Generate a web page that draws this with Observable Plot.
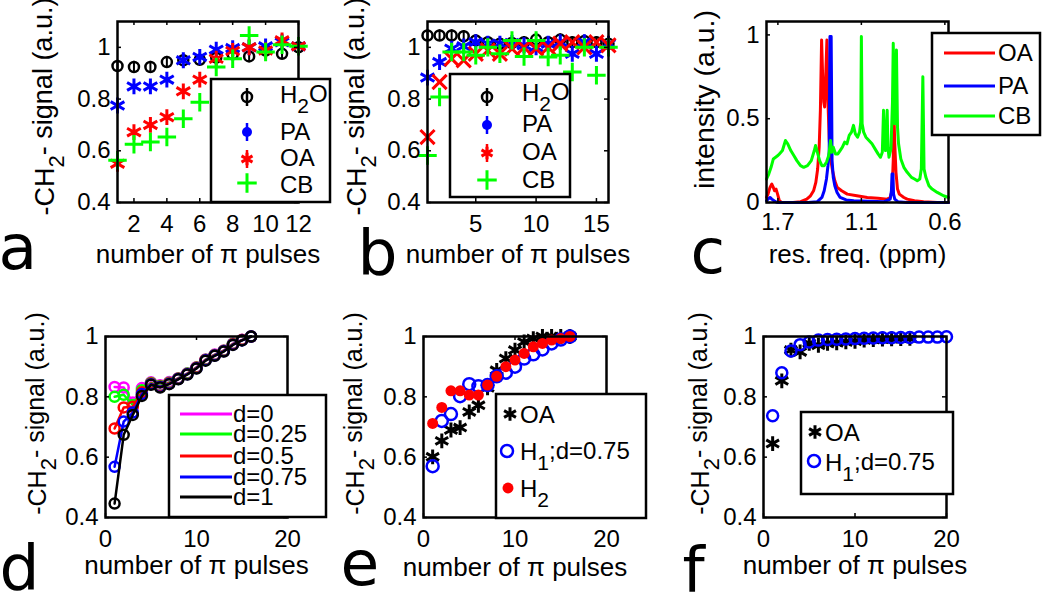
<!DOCTYPE html>
<html><head><meta charset="utf-8">
<script src="https://cdn.jsdelivr.net/npm/d3@7"></script>
<script src="https://cdn.jsdelivr.net/npm/@observablehq/plot@0.6"></script>
<style>
body{margin:0;background:#fff;}
#fig{position:relative;width:1050px;height:594px;overflow:hidden;background:#fff;}
#fig svg{position:absolute;overflow:visible;}
</style></head><body><div id="fig"></div>
<script>
// ---------- DATA ----------
// panel a
const pulsesA = [1,2,3,4,5,6,7,8,9,10,11,12];
const aH2O = [0.928,0.924,0.924,0.943,0.95,0.952,0.96,0.973,0.965,0.988,0.975,1.0];
const aPA  = [0.775,0.849,0.849,0.875,0.95,0.963,0.991,0.997,1.0,1.004,1.02,1.004];
const aOA  = [0.55,0.672,0.70,0.73,0.83,0.875,0.956,0.986,1.0,0.988,1.027,1.004];
const aCB  = [0.563,0.625,0.634,0.653,0.724,0.788,0.924,0.956,1.046,0.982,1.01,1.004];
// panel b
const pulsesB = [1,2,3,4,5,6,7,8,9,10,11,12,13,14,15,16];
const bH2O = [1.046,1.046,1.046,1.043,1.027,1.02,1.014,1.017,1.02,1.03,1.02,1.03,1.02,1.025,1.02,1.014];
const bPA  = [0.883,0.943,0.995,1.004,1.02,1.014,1.014,1.017,1.008,1.0,1.014,1.02,0.975,1.02,0.975,1.014];
const bOA  = [0.653,0.866,0.956,0.95,0.975,0.988,0.975,0.995,1.0,0.995,1.0,1.014,1.02,1.0,1.02,1.008];
const bCB  = [0.582,0.808,0.982,0.982,0.969,1.0,0.975,1.027,0.965,1.027,0.963,0.969,0.905,1.0,0.892,1.0];
const h2oErr = 0.022;
// panel c  [ppm, intensity]
const specOA = [[1.775,0.03],[1.765,0.05],[1.752,0.09],[1.740,0.11],[1.730,0.09],[1.722,0.07],[1.712,0.08],[1.702,0.05],[1.690,0.01],[1.675,0.0],[1.600,0.0],[1.550,0.005],[1.510,0.02],[1.485,0.04],[1.465,0.07],[1.450,0.12],[1.438,0.20],[1.428,0.33],[1.420,0.55],[1.412,0.97],[1.405,0.75],[1.398,0.60],[1.392,0.57],[1.385,0.75],[1.377,0.97],[1.370,0.60],[1.362,0.38],[1.352,0.26],[1.340,0.19],[1.325,0.13],[1.309,0.09],[1.280,0.07],[1.243,0.05],[1.180,0.04],[1.111,0.03],[1.040,0.025],[0.980,0.02],[0.960,0.03],[0.948,0.07],[0.940,0.25],[0.935,0.51],[0.930,0.35],[0.922,0.18],[0.912,0.08],[0.900,0.05],[0.870,0.03],[0.848,0.02],[0.800,0.01],[0.740,0.005],[0.650,0.0],[0.576,0.0]];
const specPA = [[1.775,0.01],[1.765,0.02],[1.752,0.03],[1.740,0.02],[1.725,0.01],[1.705,0.0],[1.600,0.0],[1.500,0.0],[1.440,0.005],[1.410,0.03],[1.395,0.07],[1.380,0.14],[1.370,0.22],[1.362,0.30],[1.357,0.99],[1.349,0.99],[1.343,0.25],[1.335,0.15],[1.325,0.10],[1.310,0.06],[1.290,0.03],[1.250,0.015],[1.200,0.01],[1.000,0.005],[0.960,0.02],[0.952,0.07],[0.948,0.17],[0.942,0.17],[0.938,0.05],[0.930,0.02],[0.910,0.005],[0.850,0.0],[0.576,0.0]];
const specCB = [[1.775,0.14],[1.760,0.17],[1.745,0.21],[1.730,0.26],[1.715,0.27],[1.700,0.28],[1.690,0.29],[1.670,0.31],[1.650,0.37],[1.635,0.35],[1.615,0.31],[1.595,0.28],[1.575,0.25],[1.551,0.22],[1.530,0.21],[1.505,0.22],[1.480,0.25],[1.460,0.31],[1.452,0.34],[1.440,0.30],[1.425,0.25],[1.410,0.22],[1.395,0.22],[1.380,0.24],[1.365,0.28],[1.353,0.37],[1.345,0.30],[1.335,0.33],[1.320,0.29],[1.305,0.29],[1.290,0.31],[1.275,0.33],[1.260,0.36],[1.245,0.35],[1.230,0.40],[1.215,0.42],[1.202,0.46],[1.190,0.41],[1.175,0.39],[1.162,0.42],[1.154,0.48],[1.150,0.99],[1.145,0.47],[1.135,0.42],[1.120,0.39],[1.100,0.37],[1.080,0.35],[1.060,0.32],[1.040,0.29],[1.024,0.27],[1.012,0.30],[1.004,0.55],[0.996,0.33],[0.991,0.31],[0.985,0.40],[0.980,0.55],[0.975,0.33],[0.968,0.27],[0.955,0.32],[0.945,0.60],[0.940,0.95],[0.934,0.50],[0.930,0.47],[0.924,0.62],[0.919,0.91],[0.912,0.45],[0.905,0.35],[0.890,0.26],[0.870,0.21],[0.848,0.18],[0.820,0.15],[0.800,0.14],[0.782,0.13],[0.765,0.14],[0.755,0.20],[0.745,0.75],[0.737,0.20],[0.725,0.15],[0.705,0.10],[0.684,0.08],[0.650,0.06],[0.609,0.04],[0.576,0.03]];
const cTicks = [1.7, 1.15, 0.6];
const cTickLabels = ["1.7", "1.1", "0.6"];
// panel d
const pulsesD = [1,2,3,4,5,6,7,8,9,10,11,12,13,14,15,16];
const dD0   = [0.833,0.831,0.781,0.829,0.848,0.838,0.849,0.862,0.878,0.898,0.924,0.940,0.954,0.976,0.989,1.0];
const dD025 = [0.800,0.807,0.773,0.822,0.846,0.836,0.847,0.861,0.877,0.897,0.923,0.939,0.953,0.975,0.988,1.0];
const dD05  = [0.695,0.765,0.767,0.815,0.844,0.834,0.845,0.860,0.876,0.896,0.922,0.938,0.952,0.974,0.988,1.0];
const dD075 = [0.568,0.718,0.748,0.809,0.842,0.833,0.843,0.859,0.875,0.895,0.921,0.937,0.951,0.973,0.987,1.0];
const dD1   = [0.446,0.674,0.740,0.803,0.840,0.831,0.842,0.858,0.874,0.894,0.920,0.936,0.950,0.972,0.987,1.0];
const dLabels = ["d=0","d=0.25","d=0.5","d=0.75","d=1"];
// panel e
const pulsesE = [1,2,3,4,5,6,7,8,9,10,11,12,13,14,15,16];
const eOA = [0.601,0.654,0.69,0.698,0.75,0.772,0.83,0.888,0.927,0.955,0.982,0.993,1.0,1.0,1.0,1.0];
const eH1 = [0.57,0.72,0.743,0.802,0.842,0.835,0.839,0.868,0.88,0.90,0.927,0.941,0.957,0.977,0.99,1.0];
const eH2 = [0.712,0.765,0.82,0.82,0.806,0.806,0.839,0.868,0.90,0.922,0.944,0.966,0.977,0.988,0.993,1.0];
// panel f
const pulsesFOA = [1,2,3,4,5,6,7,8,9,10,11,12,13,14,15,16];
const fOA = [0.645,0.853,0.955,0.949,0.977,0.971,0.977,0.979,0.982,0.984,0.988,0.99,0.991,0.992,0.993,0.994];
const pulsesFH = [1,2,3,4,5,6,7,8,9,10,11,12,13,14,15,16,17,18,19,20];
const fH1 = [0.737,0.88,0.952,0.973,0.982,0.988,0.99,0.991,0.992,0.993,0.994,0.995,0.996,0.996,0.997,0.997,0.998,0.998,0.998,0.999];

const xTitle = "number of \u03c0 pulses";
const yTitleTop = "-CH_2-  signal (a.u.)";
const yTitleBottom = "-CH_2- signal (a.u.)";

// ---------- DRAWING ----------
const RED = "#ff0000", BLUE = "#0000ff", GREEN = "#00ff00", MAG = "#ff00ff", BLACK = "#000000";
const FONT = "'Liberation Sans', Arial, Helvetica, sans-serif";
const fig = document.getElementById("fig");
const rows = (xs, ys) => xs.map((x, i) => ({x, y: ys[i]}));
const fmt = d => String(d);
const yLabels = [];
const TICK = 4; // inward tick length, px

function panel(o) {
  const fw = o.w - o.ml - o.mr, fh = o.h - o.mt - o.mb;
  const [x0, x1] = o.xDomain, [y0, y1] = o.yDomain;
  const tx = (x1 - x0) * TICK / fw, ty = (y1 - y0) * TICK / fh;
  const svg = Plot.plot({
    width: o.w, height: o.h,
    marginLeft: o.ml, marginRight: o.mr, marginTop: o.mt, marginBottom: o.mb,
    style: {background: "transparent", overflow: "visible", fontFamily: FONT, color: "black"},
    x: {domain: o.xDomain},
    y: {domain: o.yDomain},
    marks: [
      ...o.marks,
      // inward ticks on all four sides (MATLAB style)
      Plot.ruleX(o.xTicks, {x: d => d, y1: y0, y2: y0 + ty, stroke: "black", strokeWidth: 1.5}),
      Plot.ruleX(o.xTicks, {x: d => d, y1: y1, y2: y1 - ty, stroke: "black", strokeWidth: 1.5}),
      Plot.ruleY(o.yTicks, {y: d => d, x1: x0, x2: x0 + tx, stroke: "black", strokeWidth: 1.5}),
      Plot.ruleY(o.yTicks, {y: d => d, x1: x1, x2: x1 - tx, stroke: "black", strokeWidth: 1.5}),
      Plot.frame({stroke: "black", strokeWidth: 2.5}),
      Plot.axisX({ticks: o.xTicks, tickSize: 0, tickPadding: o.xPad, fontSize: 24, label: null, tickFormat: o.xFormat || fmt}),
      Plot.axisY({ticks: o.yTicks, tickSize: 0, tickPadding: 7, fontSize: 24, label: null, tickFormat: fmt}),
      Plot.text([o.xLabel], {text: d => d, frameAnchor: "bottom", lineAnchor: "bottom", dy: o.xLabelDy, fontSize: 26}),
      Plot.text([o.letter], {text: d => d, frameAnchor: "bottom-left", textAnchor: "start", lineAnchor: "bottom", dx: o.letterDx, dy: o.letterDy, fontSize: 63, fontFamily: "'DejaVu Sans', sans-serif"})
    ]
  });
  svg.style.position = "absolute";
  svg.style.left = o.left + "px";
  svg.style.top = o.top + "px";
  fig.appendChild(svg);
  // y title: centred beside the frame (drawn in overlay, rotated, with true subscript)
  yLabels.push({text: o.yLabel, size: o.yLabelSize,
    x: o.left + o.ml + o.yLabelDx,
    y: o.top + (o.mt + o.h - o.mb) / 2 + o.yLabelDy});
}

const yTicks4 = [0.4, 0.6, 0.8, 1];

// a
panel({left: 0, top: 0, w: 345, h: 297, ml: 117, mr: 47, mt: 21, mb: 95,
  xDomain: [1, 12], yDomain: [0.4, 1.1], xTicks: [2,4,6,8,10,12], yTicks: yTicks4, xPad: 12,
  xLabel: xTitle, xLabelDy: 60, yLabel: yTitleTop, yLabelSize: 27, yLabelDx: -72, yLabelDy: -5,
  letter: "a", letterDx: -119, letterDy: 66,
  marks: [
    Plot.ruleX(rows(pulsesA, aH2O), {x: "x", y1: d => d.y - h2oErr, y2: d => d.y + h2oErr, stroke: BLACK, strokeWidth: 2}),
    Plot.dot(rows(pulsesA, aH2O), {x: "x", y: "y", symbol: "circle", r: 5, fill: "none", stroke: BLACK, strokeWidth: 2.5}),
    Plot.dot(rows(pulsesA, aPA), {x: "x", y: "y", symbol: "asterisk", r: 7.5, stroke: BLUE, strokeWidth: 3}),
    Plot.dot(rows(pulsesA, aOA), {x: "x", y: "y", symbol: "asterisk", r: 7.5, stroke: RED, strokeWidth: 3}),
    Plot.dot(rows(pulsesA, aCB), {x: "x", y: "y", symbol: "plus", r: 6, stroke: GREEN, strokeWidth: 3})
  ]});

// b
panel({left: 345, top: 0, w: 345, h: 297, ml: 82, mr: 82, mt: 21, mb: 95,
  xDomain: [1, 16], yDomain: [0.4, 1.1], xTicks: [5,10,15], yTicks: yTicks4, xPad: 12,
  xLabel: xTitle, xLabelDy: 60, yLabel: yTitleTop, yLabelSize: 27, yLabelDx: -70, yLabelDy: -5,
  letter: "b", letterDx: -70, letterDy: 71,
  marks: [
    Plot.ruleX(rows(pulsesB, bH2O), {x: "x", y1: d => d.y - h2oErr, y2: d => d.y + h2oErr, stroke: BLACK, strokeWidth: 2}),
    Plot.dot(rows(pulsesB, bH2O), {x: "x", y: "y", symbol: "circle", r: 5, fill: "none", stroke: BLACK, strokeWidth: 2.5}),
    Plot.dot(rows(pulsesB, bPA), {x: "x", y: "y", symbol: "asterisk", r: 7.5, stroke: BLUE, strokeWidth: 3}),
    Plot.dot(rows(pulsesB, bOA), {x: "x", y: "y", symbol: "times", r: 6.5, stroke: RED, strokeWidth: 3}),
    Plot.dot(rows(pulsesB, bCB), {x: "x", y: "y", symbol: "plus", r: 6, stroke: GREEN, strokeWidth: 3})
  ]});

// c
panel({left: 690, top: 0, w: 360, h: 297, ml: 76, mr: 102, mt: 21, mb: 95,
  xDomain: [1.775, 0.576], yDomain: [0, 1.08], xTicks: cTicks, yTicks: [0, 0.5, 1], xPad: 10,
  xFormat: d => cTickLabels[cTicks.indexOf(d)],
  xLabel: "res. freq. (ppm)", xLabelDy: 60, yLabel: "intensity (a.u.)", yLabelSize: 28.5, yLabelDx: -62, yLabelDy: -12,
  letter: "c", letterDx: -76, letterDy: 70,
  marks: [
    Plot.line(specOA, {x: d => d[0], y: d => d[1], stroke: RED, strokeWidth: 3}),
    Plot.line(specPA, {x: d => d[0], y: d => d[1], stroke: BLUE, strokeWidth: 3}),
    Plot.line(specCB, {x: d => d[0], y: d => d[1], stroke: GREEN, strokeWidth: 3})
  ]});

// d
const dSeries = [[dD0, MAG], [dD025, GREEN], [dD05, RED], [dD075, BLUE], [dD1, BLACK]];
panel({left: 0, top: 297, w: 345, h: 297, ml: 105, mr: 58, mt: 39, mb: 77,
  xDomain: [0, 20], yDomain: [0.4, 1], xTicks: [0,10,20], yTicks: yTicks4, xPad: 12,
  xLabel: xTitle, xLabelDy: 56, yLabel: yTitleBottom, yLabelSize: 25, yLabelDx: -68, yLabelDy: -13,
  letter: "d", letterDx: -106, letterDy: 71,
  marks: dSeries.flatMap(([vals, col]) => [
    Plot.line(rows(pulsesD, vals), {x: "x", y: "y", stroke: col, strokeWidth: 2.5}),
    Plot.dot(rows(pulsesD, vals), {x: "x", y: "y", symbol: "circle", r: 5, fill: "none", stroke: col, strokeWidth: 2.5})
  ])});

// e
panel({left: 345, top: 297, w: 345, h: 297, ml: 78, mr: 84, mt: 39, mb: 77,
  xDomain: [0, 20], yDomain: [0.4, 1], xTicks: [0,10,20], yTicks: yTicks4, xPad: 12,
  xLabel: xTitle, xLabelDy: 58, yLabel: yTitleBottom, yLabelSize: 25, yLabelDx: -68, yLabelDy: -13,
  letter: "e", letterDx: -83, letterDy: 67,
  marks: [
    Plot.dot(rows(pulsesE, eOA), {x: "x", y: "y", symbol: "asterisk", r: 7, stroke: BLACK, strokeWidth: 3}),
    Plot.dot(rows(pulsesE, eH1), {x: "x", y: "y", symbol: "circle", r: 6, fill: "none", stroke: BLUE, strokeWidth: 2.5}),
    Plot.dot(rows(pulsesE, eH2), {x: "x", y: "y", symbol: "circle", r: 5.5, fill: RED, stroke: "none"})
  ]});

// f
panel({left: 690, top: 297, w: 360, h: 297, ml: 73, mr: 104, mt: 39, mb: 77,
  xDomain: [0, 20], yDomain: [0.4, 1], xTicks: [0,10,20], yTicks: yTicks4, xPad: 12,
  xLabel: xTitle, xLabelDy: 56, yLabel: yTitleBottom, yLabelSize: 25, yLabelDx: -63, yLabelDy: -13,
  letter: "f", letterDx: -81, letterDy: 73,
  marks: [
    Plot.dot(rows(pulsesFOA, fOA), {x: "x", y: "y", symbol: "asterisk", r: 7, stroke: BLACK, strokeWidth: 3}),
    Plot.dot(rows(pulsesFH, fH1), {x: "x", y: "y", symbol: "circle", r: 5.5, fill: "none", stroke: BLUE, strokeWidth: 2.5})
  ]});

// ---------- OVERLAY: y titles and legends ----------
const overlay = d3.select(fig).append("svg").attr("width", 1050).attr("height", 594)
  .style("left", "0px").style("top", "0px").attr("font-family", FONT);

function rich(t, str, subSize) {
  // "_x" marks a subscript character
  const parts = str.split(/(_.)/).filter(s => s.length);
  let lowered = false;
  parts.forEach(p => {
    if (p[0] === "_") {
      t.append("tspan").attr("dy", "0.45em").attr("font-size", subSize + "px").text(p[1]);
      lowered = true;
    } else {
      const s = t.append("tspan").text(p);
      if (lowered) { s.attr("dy", "-0.45em"); lowered = false; }
    }
  });
}

yLabels.forEach(l => {
  const t = overlay.append("text")
    .attr("transform", `translate(${l.x},${l.y}) rotate(-90)`)
    .attr("text-anchor", "middle").attr("dy", "0.35em")
    .attr("font-size", l.size + "px").attr("fill", "black");
  rich(t, l.text, 22);
});

function sym(g, type, x, y, col) {
  const path = (t, size) => g.append("path").attr("d", d3.symbol().type(t).size(size)()).attr("transform", `translate(${x},${y})`);
  if (type === "phi" || type === "dotbar" || type === "astbar") {
    g.append("line").attr("x1", x).attr("x2", x).attr("y1", y - 9).attr("y2", y + 9).attr("stroke", col).attr("stroke-width", 2.5);
  }
  if (type === "phi") path(d3.symbolCircle, Math.PI * 25).attr("fill", "none").attr("stroke", col).attr("stroke-width", 2.5);
  if (type === "dotbar") path(d3.symbolCircle, Math.PI * 25).attr("fill", col);
  if (type === "astbar") path(d3.symbolAsterisk, Math.PI * 36).attr("fill", "none").attr("stroke", col).attr("stroke-width", 3);
  if (type === "plusbar") path(d3.symbolPlus, Math.PI * 40).attr("fill", "none").attr("stroke", col).attr("stroke-width", 3);
  if (type === "asterisk") path(d3.symbolAsterisk, Math.PI * 42).attr("fill", "none").attr("stroke", col).attr("stroke-width", 3);
  if (type === "circle") path(d3.symbolCircle, Math.PI * 36).attr("fill", "none").attr("stroke", col).attr("stroke-width", 2.5);
  if (type === "dot") path(d3.symbolCircle, Math.PI * 30).attr("fill", col);
}
function legend(box, entries) {
  const g = overlay.append("g");
  g.append("rect").attr("x", box[0]).attr("y", box[1]).attr("width", box[2]).attr("height", box[3])
    .attr("fill", "white").attr("stroke", "black").attr("stroke-width", 2.5);
  entries.forEach(e => {
    if (e.type === "line") {
      g.append("line").attr("x1", e.sx[0]).attr("x2", e.sx[1]).attr("y1", e.sy).attr("y2", e.sy).attr("stroke", e.col).attr("stroke-width", 3);
    } else sym(g, e.type, e.sx, e.sy, e.col);
    const t = g.append("text").attr("x", e.tx).attr("y", e.ty).attr("dy", "0.35em").attr("font-size", "24px").attr("fill", "black");
    rich(t, e.label, 21);
  });
}
const abLabels = ["H_2O", "PA", "OA", "CB"];
const abTypes = ["phi", "dotbar", "astbar", "plusbar"];
const abCols = [BLACK, BLUE, RED, GREEN];
legend([211, 79, 119, 123], abLabels.map((l, i) => ({label: l, type: abTypes[i], col: abCols[i], sx: 247, sy: [97, 132, 159, 183][i], tx: 280, ty: [95, 132, 158, 185][i]})));
legend([450, 74, 120, 123], abLabels.map((l, i) => ({label: l, type: abTypes[i], col: abCols[i], sx: 487, sy: [97, 125, 153, 180][i], tx: 522, ty: [93, 124, 152, 180][i]})));
const cLabels = ["OA", "PA", "CB"];
legend([932, 33, 108, 102], cLabels.map((l, i) => ({label: l, type: "line", col: [RED, BLUE, GREEN][i], sx: [944, 995], sy: [53, 86, 116][i], tx: 998, ty: [53, 86, 116][i]})));
legend([169, 395, 157, 122], dLabels.map((l, i) => ({label: l, type: "line", col: dSeries[i][1], sx: [180, 232], sy: [414, 434, 456, 477, 497][i], tx: 233, ty: [414, 434, 456, 477, 497][i]})));
const eLabels = ["OA", "H_1;d=0.75", "H_2"];
legend([496, 394, 150, 124], eLabels.map((l, i) => ({label: l, type: ["asterisk", "circle", "dot"][i], col: [BLACK, BLUE, RED][i], sx: [510, 507, 508][i], sy: [414, 451, 488][i], tx: 520, ty: [415, 452, 489][i]})));
legend([801, 412, 152, 82], eLabels.slice(0, 2).map((l, i) => ({label: l, type: ["asterisk", "circle"][i], col: [BLACK, BLUE][i], sx: [815, 814][i], sy: [432, 461][i], tx: 825, ty: [433, 463][i]})));
</script>
</body></html>
